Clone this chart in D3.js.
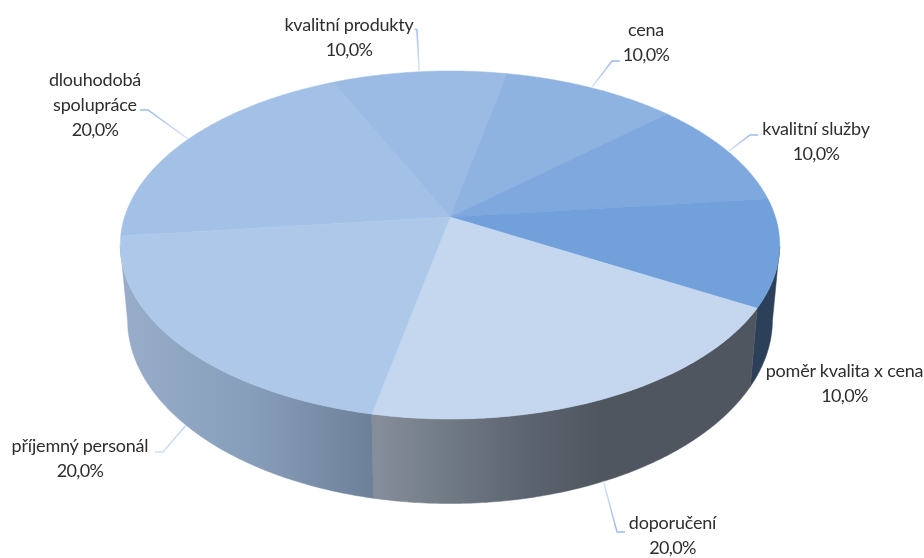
<!DOCTYPE html>
<html><head><meta charset="utf-8">
<script src="https://cdn.jsdelivr.net/npm/d3@7"></script>
<style>html,body{margin:0;padding:0;background:#fff}svg{display:block}</style></head>
<body><svg id="c" width="924" height="558"></svg>
<script>
// data, clockwise from the first slice
const categories = ["dlouhodobá spolupráce","kvalitní produkty","cena","kvalitní služby","poměr kvalita x cena","doporučení","příjemný personál"];
const values = [20,10,10,10,10,20,20];
const labelLines = [["dlouhodobá","spolupráce"],["kvalitní produkty"],["cena"],["kvalitní služby"],["poměr kvalita x cena"],["doporučení"],["příjemný personál"]];
const topColors = ["#a3c1e7","#9bbbe4","#8eb3e1","#7fa9de","#72a0db","#c4d7ef","#aec8e9"];
const wallStops = [null,null,null,null,["#2c4059","#2c4059"],["#868f9b","#707a85","#5c6470","#50565f","#50565f","#50565f"],["#97adca","#889fbb","#6d8099"]];
// layout
const W = 924, H = 558;
const firstAngle = 263.7 * Math.PI / 180;
const P = {cx:450, cy:217, R:325.4, S:169.5, k:56/348};
const B = {cy:290, sx:0.978, sy:1.057};
const labelPos = [[95,86],[349,31],[646,36],[816,135],[844.5,377],[672.5,529.2],[80,452]];
const leaderElbow = [[[140,110],[148,110]],[[415,29],[417,30]],[[620,61],[612,61]],[[758,135],[750,135]],null,[[625,532],[617,532]],[[155,452],[163,452]]];

const unit = t => [Math.sin(t), -Math.cos(t)];
const topPt = t => { const [u,v]=unit(t), w=1-P.k*v; return [P.cx+P.R*u/w, P.cy+P.S*v/w]; };
const botPt = t => { const [x,y]=topPt(t); return [P.cx+(x-P.cx)*B.sx, B.cy+(y-P.cy)*B.sy]; };
const arcAngles = (a,b) => { const n=Math.max(2,Math.ceil(Math.abs(b-a)/0.01)); return d3.range(n+1).map(i=>a+(b-a)*i/n); };

const pie = d3.pie().sort(null).value(d=>d).startAngle(firstAngle).endAngle(firstAngle+2*Math.PI);
const arcs = pie(values);
const line = d3.line();
const svg = d3.select("#c");
const defs = svg.append("defs");
defs.append("filter").attr("id","soft").append("feGaussianBlur").attr("stdDeviation",0.45);

// outer wall: visible between the two silhouette angles
const visA = 99.6*Math.PI/180, visB = 260.4*Math.PI/180;
const walls = svg.append("g");
arcs.forEach((d,i)=>{
  const norm = x => x % (2*Math.PI);
  let a = norm(d.startAngle), b = a + (d.endAngle-d.startAngle);
  a = Math.max(a,visA); b = Math.min(b,visB);
  if (b<=a || !wallStops[i]) return;
  const ts = arcAngles(a,b);
  const poly = ts.map(topPt).concat(ts.slice().reverse().map(botPt));
  const xs = d3.extent(poly,p=>p[0]);
  const id = "wall"+i;
  const g = defs.append("linearGradient").attr("id",id).attr("gradientUnits","userSpaceOnUse")
    .attr("x1",xs[0]).attr("x2",xs[1]).attr("y1",0).attr("y2",0);
  wallStops[i].forEach((c,j,arr)=>g.append("stop").attr("offset",j/(arr.length-1)).attr("stop-color",c));
  walls.append("path").attr("d",line(poly)+"Z").attr("fill",`url(#${id})`).attr("stroke",`url(#${id})`).attr("stroke-width",0.5);
});

// top face
svg.append("g").selectAll("path").data(arcs).join("path")
  .attr("d",d=>line([[P.cx,P.cy]].concat(arcAngles(d.startAngle,d.endAngle).map(topPt)))+"Z")
  .attr("fill",(d,i)=>topColors[i]).attr("stroke",(d,i)=>topColors[i]).attr("stroke-width",0.5);

// leaders
const leaders = svg.append("g").attr("fill","none").attr("stroke-width",1.5);
arcs.forEach((d,i)=>{
  if(!leaderElbow[i]) return;
  const mid=(d.startAngle+d.endAngle)/2, m=mid%(2*Math.PI);
  const end=(m>visA&&m<visB)?botPt(mid):topPt(mid);
  const pts=leaderElbow[i].concat([end]);
  const id="lead"+i, el=pts[1];
  const g=defs.append("linearGradient").attr("id",id).attr("gradientUnits","userSpaceOnUse")
    .attr("x1",el[0]).attr("y1",el[1]).attr("x2",end[0]).attr("y2",end[1]);
  g.append("stop").attr("offset",0).attr("stop-color",i===6?"#cfdef3":"#9dbbe8");
  g.append("stop").attr("offset",1).attr("stop-color",i===6?"#c4d6f0":"#dbe6f7");
  leaders.append("path").attr("d",line(pts)).attr("stroke",`url(#${id})`);
});

// labels
const text = svg.append("g").attr("font-family","Lato, 'Open Sans', sans-serif").attr("font-size",18)
  .attr("fill","#2e2e2e").attr("text-anchor","middle").attr("filter","url(#soft)");
categories.forEach((c,i)=>{
  const [x,y]=labelPos[i];
  const pct=d3.format(".1f")(values[i]).replace(".",",")+"%";
  const lines=labelLines[i].concat([pct]);
  lines.forEach((t,j)=>text.append("text").attr("x",x).attr("y",y+j*25)
    .attr("letter-spacing",t===pct?-0.7:-0.2).text(t));
});
</script></body></html>
